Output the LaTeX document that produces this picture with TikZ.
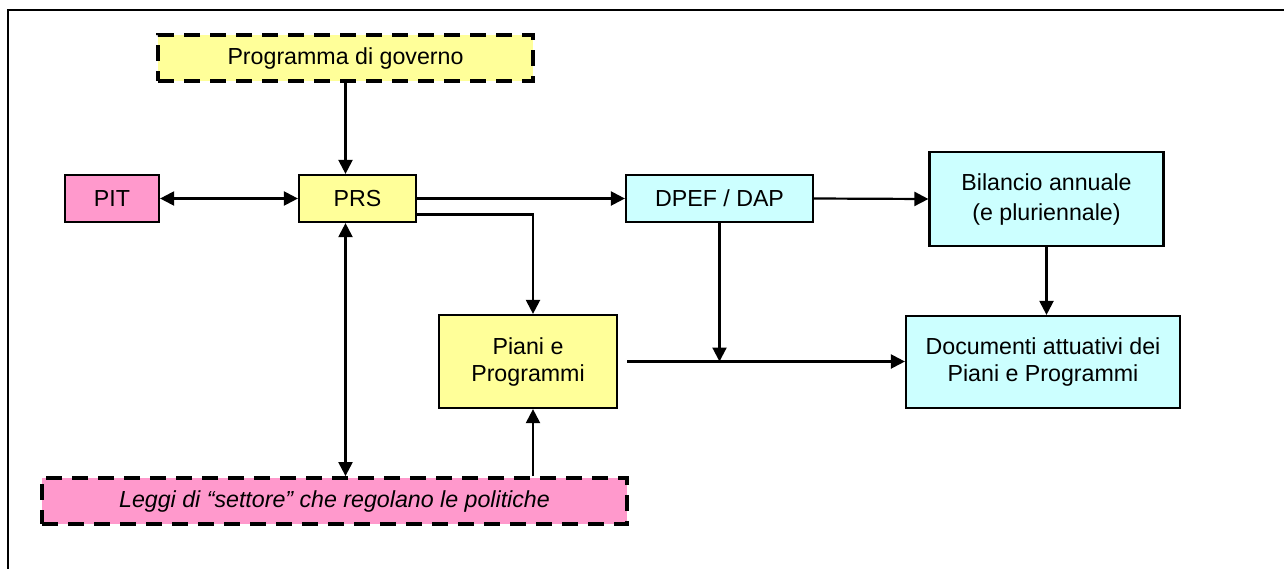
\documentclass[tikz,border=0pt]{standalone}
\usepackage{fontspec}
\setmainfont{Liberation Sans}
\usetikzlibrary{arrows.meta,calc}
\definecolor{boxyellow}{HTML}{FFFF99}
\definecolor{boxpink}{HTML}{FF99CC}
\definecolor{boxcyan}{HTML}{CCFFFF}
\begin{document}
\begin{tikzpicture}[x=1pt,y=-1pt,
  every node/.style={font=\fontsize{23.2}{27}\selectfont, align=center, inner sep=0pt, text=black},
  solidbox/.style={draw=black, line width=2.2pt, rectangle},
  dashbox/.style={draw=black, line width=3.8pt, dash pattern=on 16pt off 10pt, rectangle},
  conn/.style={line width=2.2pt, -{Triangle[length=14pt,width=14pt]}},
  biconn/.style={line width=2.2pt, {Triangle[length=14pt,width=14pt]}-{Triangle[length=14pt,width=14pt]}}]
\useasboundingbox (0,0) rectangle (1284,568);
\begin{scope}
\clip (0,0) rectangle (1284,568);
\draw[line width=2.4pt] (8,10) rectangle (1300,600);
\end{scope}

\node[dashbox, fill=boxyellow, minimum width=375pt, minimum height=46pt] (prog) at (345.5,58) {Programma di governo};
\node[solidbox, fill=boxpink, minimum width=94pt, minimum height=47pt] (pit) at (112,198.5) {PIT};
\node[solidbox, fill=boxyellow, minimum width=117pt, minimum height=47pt] (prs) at (357.5,198.5) {PRS};
\node[solidbox, fill=boxcyan, minimum width=187pt, minimum height=47pt] (dpef) at (719.5,198.5) {DPEF / DAP};
\node[solidbox, fill=boxcyan, minimum width=234pt, minimum height=94pt, font=\fontsize{23.2}{30}\selectfont] (bil) at (1046.5,199) {Bilancio annuale\\(e pluriennale)};
\node[solidbox, fill=boxyellow, minimum width=178pt, minimum height=93pt] (piani) at (528,361.5) {Piani e\\Programmi};
\node[solidbox, fill=boxcyan, minimum width=274pt, minimum height=92pt] (doc) at (1043,362) {Documenti attuativi dei\\Piani e Programmi};
\node[dashbox, fill=boxpink, minimum width=585pt, minimum height=46pt, font=\fontsize{23.2}{27}\selectfont\itshape] (leggi) at (334.5,501) {Leggi di “settore” che regolano le politiche};

\draw[conn] (prog.south) -- (prog.south |- prs.north);
\draw[biconn] (pit.east) -- (prs.west);
\draw[conn] (prs.east) -- (dpef.west);
\draw[conn] ([yshift=-16pt]prs.east) -| ([xshift=5pt]piani.north);
\draw[conn] (dpef.east) -- (bil.west);
\draw[conn] (bil.south) -- (bil.south |- doc.north);
\coordinate (pstart) at ([xshift=9pt]piani.east);
\draw[conn] (pstart) -- (pstart -| doc.west);
\draw[conn] (dpef.south) -- (dpef.south |- pstart);
\draw[biconn] (prog.south |- prs.south) -- (prog.south |- leggi.north);
\draw[conn] ([xshift=5pt]piani.south |- leggi.north) -- ([xshift=5pt]piani.south);
\end{tikzpicture}
\end{document}
